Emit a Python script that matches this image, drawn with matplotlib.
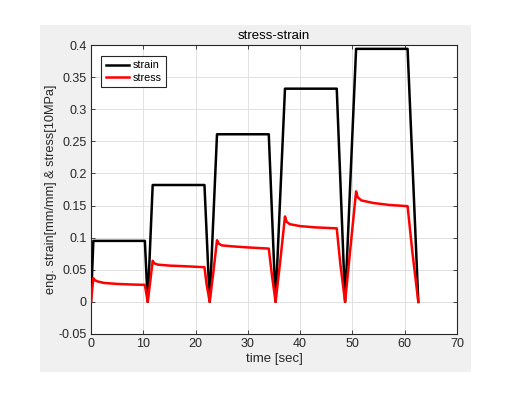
import matplotlib
matplotlib.use("Agg")
import matplotlib.pyplot as plt
from matplotlib.patches import Rectangle

plt.rcParams['font.family'] = ['Liberation Sans', 'DejaVu Sans']

# strain (black)
strain_t = [0, 0.45, 10.3, 10.85, 11.8, 21.7, 22.7, 24.1, 34.0, 35.3, 37.1,
            47.0, 48.6, 50.7, 60.55, 62.6]
strain_v = [0, 0.095, 0.095, 0, 0.182, 0.182, 0, 0.261, 0.261, 0, 0.332,
            0.332, 0, 0.394, 0.394, 0]

# stress (red, in 10 MPa)
stress_t = [0, 0.45, 0.7, 1.2, 2.5, 5, 8, 10.3, 10.6, 10.85,
            11.3, 11.8, 12.1, 12.8, 15, 18, 21.7, 22.1, 22.7,
            23.4, 24.1, 24.4, 25, 27, 30, 34.0, 34.6, 35.3,
            36.2, 37.1, 37.4, 38, 40, 43, 47.0, 47.7, 48.6,
            49.6, 50.7, 51.0, 51.7, 54, 57, 60.55, 61.5, 62.6]
stress_v = [0, 0.037, 0.034, 0.032, 0.0295, 0.028, 0.027, 0.0265, 0.012, 0,
            0.030, 0.064, 0.060, 0.058, 0.0565, 0.0555, 0.054, 0.028, 0,
            0.046, 0.096, 0.091, 0.088, 0.0865, 0.0848, 0.083, 0.042, 0,
            0.064, 0.133, 0.125, 0.121, 0.118, 0.116, 0.1145, 0.058, 0,
            0.083, 0.172, 0.163, 0.158, 0.154, 0.151, 0.149, 0.075, 0]

xticks = [0, 10, 20, 30, 40, 50, 60, 70]
yticks = [-0.05, 0, 0.05, 0.1, 0.15, 0.2, 0.25, 0.3, 0.35, 0.4]
ytick_labels = ['-0.05', '0', '0.05', '0.1', '0.15', '0.2', '0.25', '0.3', '0.35', '0.4']

W, H = 509, 393
fig = plt.figure(figsize=(W / 100, H / 100), dpi=100, facecolor='white')
fig.patches.append(Rectangle((40 / W, 1 - 372 / H), 431 / W, 347 / H,
                             transform=fig.transFigure, facecolor='#f0f0f0',
                             edgecolor='none', zorder=-10))
ax = fig.add_axes([91 / W, 1 - 334 / H, 366 / W, 289 / H])
ax.set_facecolor('white')

ax.plot(strain_t, strain_v, color='black', lw=1.8, label='strain', zorder=3)
ax.plot(stress_t, stress_v, color='#ff0000', lw=1.8, label='stress', zorder=4)

ax.set_xlim(0, 70)
ax.set_ylim(-0.05, 0.4)
ax.set_xticks(xticks)
ax.set_xticklabels([str(v) for v in xticks])
ax.set_yticks(yticks)
ax.set_yticklabels(ytick_labels)

axc = '#262626'
for s in ax.spines.values():
    s.set_color(axc)
    s.set_linewidth(0.8)
ax.tick_params(direction='in', top=True, right=True, length=3, width=0.6,
               colors=axc, labelsize=9, pad=3)
ax.grid(True, color='#dcdcdc', lw=0.6)
ax.set_axisbelow(True)

ax.set_title('stress-strain', fontsize=9.5, color='black', pad=4)
ax.set_xlabel('time [sec]', fontsize=9.5, color=axc, labelpad=2)
ax.set_ylabel('eng. strain[mm/mm] & stress[10MPa]', fontsize=9.2, color=axc, labelpad=1)

leg = ax.legend(loc='upper left', bbox_to_anchor=(0.028, 0.962), fontsize=7.8,
                frameon=True, fancybox=False, handlelength=2.2, handletextpad=0.3,
                borderpad=0.4, labelspacing=0.25, borderaxespad=0)
leg.get_frame().set_edgecolor(axc)
leg.get_frame().set_linewidth(0.8)
leg.get_frame().set_alpha(1)

fig.savefig('out.png', dpi=100, facecolor='white')
